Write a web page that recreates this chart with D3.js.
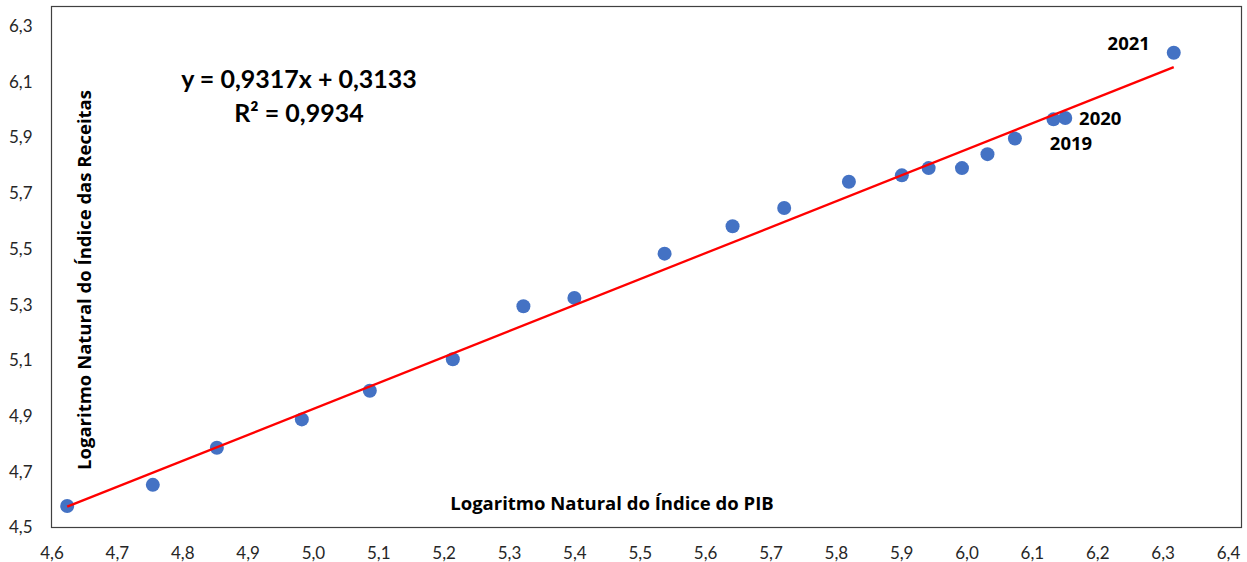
<!DOCTYPE html>
<html>
<head>
<meta charset="utf-8">
<script src="https://cdn.jsdelivr.net/npm/d3@7"></script>
<style>
  body { margin: 0; background: #fff; }
  svg { display: block; font-family: Lato, "Liberation Sans", sans-serif; }
</style>
</head>
<body>
<svg id="chart" width="1247" height="562"></svg>
<script>
// Anos de cada ponto
const anos = [2002, 2003, 2004, 2005, 2006, 2007, 2008, 2009, 2010, 2011,
              2012, 2013, 2014, 2015, 2016, 2017, 2018, 2019, 2020, 2021];
// ln do índice do PIB (eixo x)
const lnPIB = [4.574, 4.705, 4.803, 4.933, 5.037, 5.164, 5.272, 5.350, 5.488, 5.592,
               5.671, 5.770, 5.851, 5.892, 5.943, 5.982, 6.024, 6.083, 6.101, 6.267];
// ln do índice das receitas (eixo y)
const lnReceitas = [4.577, 4.653, 4.786, 4.888, 4.991, 5.104, 5.294, 5.324, 5.483, 5.581,
                    5.647, 5.741, 5.764, 5.790, 5.790, 5.840, 5.896, 5.965, 5.970, 6.204];
// Rótulos dos eixos
const xTicks = [4.55, 4.65, 4.75, 4.85, 4.95, 5.05, 5.15, 5.25, 5.35, 5.45,
                5.55, 5.65, 5.75, 5.85, 5.95, 6.05, 6.15, 6.25, 6.35];
const xTickLabels = ["4,6", "4,7", "4,8", "4,9", "5,0", "5,1", "5,2", "5,3", "5,4", "5,5",
                     "5,6", "5,7", "5,8", "5,9", "6,0", "6,1", "6,2", "6,3", "6,4"];
const yTicks = [4.5, 4.7, 4.9, 5.1, 5.3, 5.5, 5.7, 5.9, 6.1, 6.3];
const yTickLabels = ["4,5", "4,7", "4,9", "5,1", "5,3", "5,5", "5,7", "5,9", "6,1", "6,3"];
// Linha de tendência
const slope = 0.9317, intercept = 0.3133;
const anosDestaque = [2019, 2020, 2021];

const pontos = anos.map((a, i) => ({ ano: a, x: lnPIB[i], y: lnReceitas[i] }));

const svg = d3.select("#chart");
const negrito = "'Open Sans', Lato, sans-serif";

const x = d3.scaleLinear().domain([4.55, 6.35]).range([51.5, 1228]);
const y = d3.scaleLinear().domain([4.5, 6.3]).range([527.5, 26]);

// Moldura da área do gráfico
svg.append("rect")
    .attr("x", 51.5).attr("y", 6.5)
    .attr("width", 1190).attr("height", 521)
    .attr("fill", "none")
    .attr("stroke", "#404040")
    .attr("stroke-width", 1.2);

// Eixo x (só os rótulos)
const xAxis = svg.append("g")
    .attr("transform", "translate(0,527.5)")
    .call(d3.axisBottom(x).tickValues(xTicks).tickSize(0).tickPadding(19)
        .tickFormat((d, i) => xTickLabels[i]));
xAxis.select(".domain").remove();
xAxis.selectAll("text")
    .attr("font-size", 17)
    .attr("font-family", "Lato, sans-serif")
    .attr("fill", "#262626");

// Eixo y
const yAxis = svg.append("g")
    .attr("transform", "translate(51.5,0)")
    .call(d3.axisLeft(y).tickValues(yTicks).tickSize(0).tickPadding(19)
        .tickFormat((d, i) => yTickLabels[i]));
yAxis.select(".domain").remove();
yAxis.selectAll("text")
    .attr("font-size", 17)
    .attr("font-family", "Lato, sans-serif")
    .attr("fill", "#262626");

// Pontos
svg.append("g")
    .selectAll("circle")
    .data(pontos)
    .enter()
    .append("circle")
    .attr("cx", d => x(d.x))
    .attr("cy", d => y(d.y))
    .attr("r", 7)
    .attr("fill", "#4472C4");

// Linha de tendência
const xMin = d3.min(lnPIB), xMax = d3.max(lnPIB);
svg.append("line")
    .attr("x1", x(xMin)).attr("y1", y(slope * xMin + intercept))
    .attr("x2", x(xMax)).attr("y2", y(slope * xMax + intercept))
    .attr("stroke", "#FF0000")
    .attr("stroke-width", 2.3);

// Rótulos dos anos
const offsets = { 2019: [17.5, 23], 2020: [35, 0], 2021: [-45, -10] };
svg.append("g")
    .selectAll("text")
    .data(pontos.filter(d => anosDestaque.includes(d.ano)))
    .enter()
    .append("text")
    .attr("x", d => x(d.x) + offsets[d.ano][0])
    .attr("y", d => y(d.y) + offsets[d.ano][1])
    .attr("text-anchor", "middle")
    .attr("dominant-baseline", "central")
    .attr("font-family", negrito)
    .attr("font-size", 18.5)
    .attr("font-weight", "bold")
    .attr("fill", "#000")
    .text(d => d.ano);

// Equação e R²
svg.append("text")
    .attr("x", 299).attr("y", 88)
    .attr("text-anchor", "middle")
    .attr("font-size", 25)
    .attr("font-weight", "bold")
    .text("y = 0,9317x + 0,3133");
svg.append("text")
    .attr("x", 299).attr("y", 122)
    .attr("text-anchor", "middle")
    .attr("font-size", 25)
    .attr("font-weight", "bold")
    .text("R² = 0,9934");

// Títulos dos eixos
svg.append("text")
    .attr("x", 612).attr("y", 510)
    .attr("text-anchor", "middle")
    .attr("font-family", negrito)
    .attr("font-size", 18.5)
    .attr("font-weight", "bold")
    .text("Logaritmo Natural do Índice do PIB");
svg.append("text")
    .attr("transform", "translate(91,280) rotate(-90)")
    .attr("text-anchor", "middle")
    .attr("font-family", negrito)
    .attr("font-size", 18.5)
    .attr("font-weight", "bold")
    .text("Logaritmo Natural do Índice das Receitas");
</script>
</body>
</html>
